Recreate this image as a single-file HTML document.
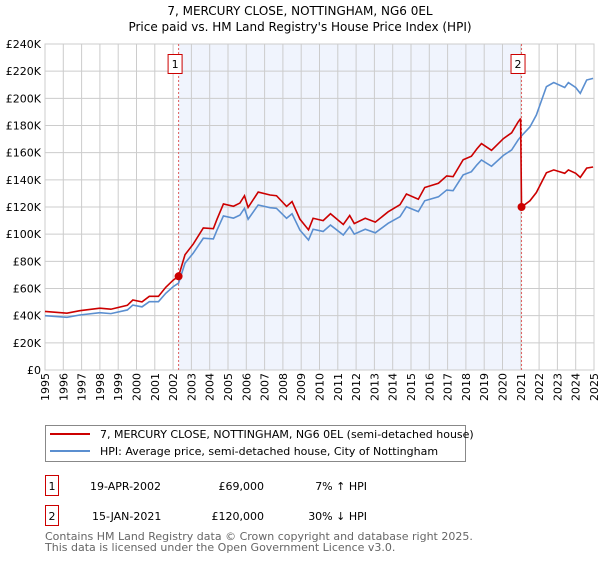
<!DOCTYPE html>
<html><head><meta charset="utf-8"><style>
body{margin:0;background:#fff;}
svg text{font-family:"DejaVu Sans","Liberation Sans",sans-serif;}
</style></head><body>
<svg width="600" height="560" viewBox="0 0 600 560" xmlns="http://www.w3.org/2000/svg">
<text x="300" y="15" font-size="12" text-anchor="middle">7, MERCURY CLOSE, NOTTINGHAM, NG6 0EL</text>
<text x="300" y="31" font-size="12" text-anchor="middle">Price paid vs. HM Land Registry's House Price Index (HPI)</text>
<g id="plot"></g>
<g>
<rect x="45.5" y="425.5" width="420" height="36" fill="#fff" stroke="#888"/>
<line x1="50" y1="434" x2="90" y2="434" stroke="#cc0000" stroke-width="2"/>
<text x="100" y="438" font-size="11">7, MERCURY CLOSE, NOTTINGHAM, NG6 0EL (semi-detached house)</text>
<line x1="50" y1="451" x2="90" y2="451" stroke="#5b8fd0" stroke-width="2"/>
<text x="100" y="455" font-size="11">HPI: Average price, semi-detached house, City of Nottingham</text>
</g>
<g font-size="11">
<rect x="45.5" y="475.5" width="13" height="20" fill="#fff" stroke="#cc0000"/>
<text x="52" y="490" text-anchor="middle">1</text>
<text x="90" y="490">19-APR-2002</text>
<text x="264" y="490" text-anchor="end">£69,000</text>
<text x="367" y="490" text-anchor="end">7% ↑ HPI</text>
<rect x="45.5" y="505.5" width="13" height="20" fill="#fff" stroke="#cc0000"/>
<text x="52" y="520" text-anchor="middle">2</text>
<text x="92" y="520">15-JAN-2021</text>
<text x="264" y="520" text-anchor="end">£120,000</text>
<text x="367" y="520" text-anchor="end">30% ↓ HPI</text>
</g>
<text x="45" y="540" font-size="11" fill="#666">Contains HM Land Registry data © Crown copyright and database right 2025.</text>
<text x="45" y="551" font-size="11" fill="#666">This data is licensed under the Open Government Licence v3.0.</text>
</svg>
<script>
const hpiYears=[1995.0,1996.2,1996.9,1998.0,1998.6,1999.5,1999.8,2000.3,2000.7,2001.2,2001.6,2002.0,2002.3,2002.65,2003.1,2003.65,2004.2,2004.4,2004.75,2005.3,2005.65,2005.9,2006.1,2006.65,2007.3,2007.65,2008.2,2008.5,2008.93,2009.4,2009.65,2010.2,2010.6,2011.3,2011.65,2011.9,2012.5,2013.05,2013.75,2014.4,2014.75,2015.4,2015.75,2016.5,2016.95,2017.3,2017.85,2018.3,2018.6,2018.85,2019.4,2020.05,2020.5,2020.85,2021.0,2021.5,2021.85,2022.4,2022.8,2023.4,2023.6,2024.0,2024.25,2024.6,2024.95];
const hpiValues=[40,38.8,40.5,42.2,41.5,44.2,47.8,46.5,50.3,50.3,56.5,61.3,64,78.7,86,97,96.5,103,113.4,111.8,114,119,111,121.5,119.5,119,111.7,115,103,95.7,103.6,102,106.7,99.4,105.5,100,103.6,101,108,112.9,120.2,116.6,124.6,127.5,132.5,132,143.6,146,151,154.6,150,158,162,169.3,171.8,179,187.7,208.6,211.6,208,211.6,208,203.7,213.5,214.7];
const saleYears=[2002.3,2021.04];
const salePrices=[69,120];
const yTicks=[0,20,40,60,80,100,120,140,160,180,200,220,240];
const xTicks=[1995,1996,1997,1998,1999,2000,2001,2002,2003,2004,2005,2006,2007,2008,2009,2010,2011,2012,2013,2014,2015,2016,2017,2018,2019,2020,2021,2022,2023,2024,2025];
const X0=45,X1=594,Y0=370,Y1=44;
const sx=y=>X0+(y-1995)/30*(X1-X0);
const sy=v=>Y0-v/240*(Y0-Y1);
const NS='http://www.w3.org/2000/svg';
const g=document.getElementById('plot');
function mk(t,a,p){const e=document.createElementNS(NS,t);for(const k in a)e.setAttribute(k,a[k]);(p||g).appendChild(e);return e;}
function hpiAt(y){for(let i=1;i<hpiYears.length;i++){if(y<=hpiYears[i]){const t=(y-hpiYears[i-1])/(hpiYears[i]-hpiYears[i-1]);return hpiValues[i-1]+t*(hpiValues[i]-hpiValues[i-1]);}}return hpiValues[hpiValues.length-1];}
const shade=mk('rect',{x:sx(saleYears[0]),y:Y1,width:sx(saleYears[1])-sx(saleYears[0]),height:Y0-Y1,fill:'#f0f4fd'});


yTicks.forEach(v=>{
 const l=mk('line',{x1:X0,x2:X1,y1:sy(v),y2:sy(v),stroke:'#cccccc'});
 
 
 const t=mk('text',{x:X0-4,y:sy(v)+4,'font-size':11,'text-anchor':'end'});
 t.textContent='£'+(v===0?'0':v+'K');
 
 
});
xTicks.forEach(y=>{
 const l=mk('line',{x1:sx(y),x2:sx(y),y1:Y1,y2:Y0,stroke:'#cccccc'});
 
 
 const t=mk('text',{x:0,y:0,'font-size':11,'text-anchor':'end',transform:`translate(${sx(y)+4},${Y0+3}) rotate(-90)`});
 t.textContent=y;
 
 
});
const fr=mk('rect',{x:X0,y:Y1,width:X1-X0,height:Y0-Y1,fill:'none',stroke:'#cccccc'});


saleYears.forEach((y,i)=>{
 const l=mk('line',{x1:sx(y),x2:sx(y),y1:Y1,y2:Y0,stroke:'#e06060','stroke-dasharray':'2,2'});
 
 
 const r=mk('rect',{x:sx(y)-10.5,y:54.5,width:14,height:19,fill:'#fff',stroke:'#cc0000'});
 
 
 const t=mk('text',{x:sx(y)-3.5,y:68,'font-size':11,'text-anchor':'middle'});
 t.textContent=String(i+1);
 
 
});
const hp=mk('polyline',{points:hpiYears.map((y,i)=>sx(y)+','+sy(hpiValues[i])).join(' '),fill:'none',stroke:'#5b8fd0','stroke-width':1.6});


const r1=salePrices[0]/hpiAt(saleYears[0]), r2=salePrices[1]/hpiAt(saleYears[1]);
const pts=[];
hpiYears.forEach((y,i)=>{if(y<saleYears[1])pts.push([y,hpiValues[i]*r1]);});
pts.push([saleYears[1]-0.05,hpiAt(saleYears[1]-0.05)*r1]);
pts.push([saleYears[1],salePrices[1]]);
hpiYears.forEach((y,i)=>{if(y>saleYears[1])pts.push([y,hpiValues[i]*r2]);});
const pl=mk('polyline',{points:pts.map(p=>sx(p[0])+','+sy(p[1])).join(' '),fill:'none',stroke:'#cc0000','stroke-width':1.6});


saleYears.forEach((y,i)=>{
 const c=mk('circle',{cx:sx(y),cy:sy(salePrices[i]),r:4,fill:'#cc0000'});
 
 
});
</script>
</body></html>
